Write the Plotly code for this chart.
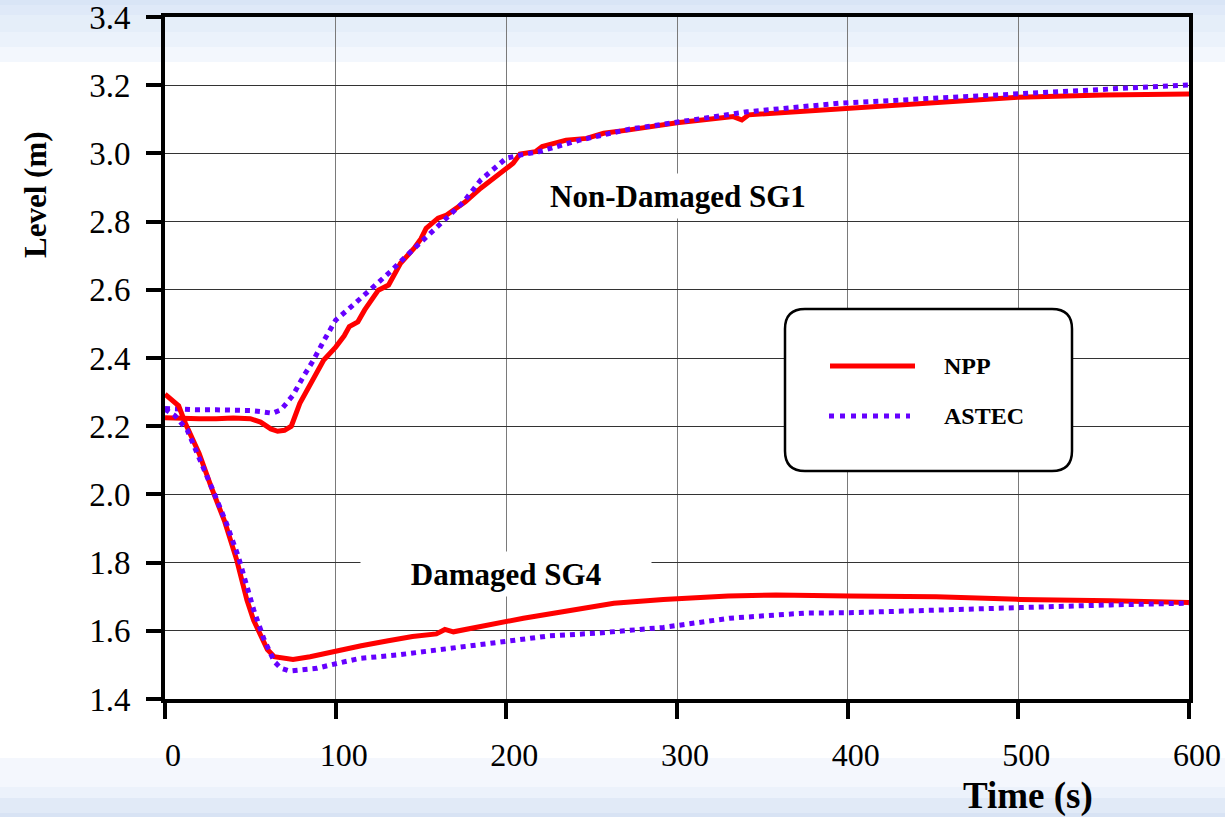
import plotly.graph_objects as go

# ---------------- data ----------------
sg1_npp_t = [0, 10, 20, 30, 40, 50, 56, 62, 66, 70, 74, 79, 86, 93, 100, 105, 108, 113, 117, 125, 131, 138, 146, 150,
             153, 160, 165, 176, 185, 195, 204, 208, 217, 221, 235, 247, 257, 272, 300, 333, 338, 342, 370, 395, 450,
             500, 550, 600]
sg1_npp_v = [2.225, 2.222, 2.222, 2.222, 2.224, 2.222, 2.212, 2.192, 2.185, 2.188, 2.200, 2.267, 2.330, 2.394, 2.432,
             2.465, 2.492, 2.506, 2.541, 2.599, 2.614, 2.678, 2.722, 2.750, 2.780, 2.810, 2.819, 2.858, 2.898, 2.935,
             2.971, 2.998, 3.005, 3.020, 3.039, 3.044, 3.059, 3.069, 3.090, 3.108, 3.098, 3.113, 3.122, 3.132, 3.150,
             3.165, 3.171, 3.174]

sg1_astec_t = [0, 10, 20, 30, 40, 50, 56, 63, 68, 75, 81, 87, 93, 100, 109, 120, 132, 142, 157, 167, 175, 185, 200,
               208, 219, 243, 272, 302, 341, 395, 450, 497, 550, 600]
sg1_astec_v = [2.252, 2.249, 2.248, 2.248, 2.248, 2.246, 2.243, 2.238, 2.248, 2.291, 2.345, 2.394, 2.450, 2.511, 2.550,
               2.599, 2.653, 2.702, 2.775, 2.824, 2.858, 2.922, 2.986, 2.995, 3.005, 3.039, 3.071, 3.093, 3.122, 3.147,
               3.162, 3.174, 3.186, 3.201]

sg4_npp_t = [0, 5, 8, 12, 20, 27, 35, 42, 48, 52, 56, 60, 64, 70, 75, 85, 95, 101, 107, 115, 130, 145, 159, 164, 169,
             180, 194, 210, 233, 263, 292, 312, 330, 358, 380, 401, 452, 501, 554, 600]
sg4_npp_v = [2.294, 2.275, 2.260, 2.208, 2.120, 2.023, 1.920, 1.808, 1.690, 1.630, 1.583, 1.545, 1.524, 1.518, 1.516,
             1.524, 1.535, 1.539, 1.549, 1.556, 1.570, 1.583, 1.591, 1.604, 1.597, 1.608, 1.622, 1.637, 1.656, 1.681,
             1.692, 1.698, 1.702, 1.705, 1.702, 1.702, 1.700, 1.692, 1.688, 1.683]

sg4_astec_t = [0, 6, 13, 20, 28, 36, 43, 52, 58, 64, 68, 73, 80, 89, 97, 114, 136, 165, 194, 225, 253, 292, 331, 358,
               375, 401, 452, 501, 554, 600]
sg4_astec_v = [2.250, 2.230, 2.189, 2.110, 2.013, 1.915, 1.817, 1.661, 1.575, 1.510, 1.490, 1.482, 1.484, 1.490,
               1.500, 1.519, 1.529, 1.548, 1.568, 1.585, 1.593, 1.610, 1.637, 1.646, 1.652, 1.653, 1.659, 1.668,
               1.676, 1.681]

x_ticks = [0, 100, 200, 300, 400, 500, 600]
y_ticks = [1.4, 1.6, 1.8, 2.0, 2.2, 2.4, 2.6, 2.8, 3.0, 3.2, 3.4]
series_names = ["NPP", "ASTEC"]

# ---------------- styling ----------------
W, H = 1225, 817
L, R, T, B = 165, 36, 17, 118
PW, PH = W - L - R, H - T - B
RED = "#ff0000"
BLUE = "#6600ff"
FONT = "Liberation Serif, Times New Roman, serif"


def px(xp):
    return (xp - L) / PW


def py(yp):
    return (H - B - yp) / PH


fig = go.Figure()
npp_style = dict(color=RED, width=5)
astec_style = dict(color=BLUE, width=5, dash="5px,5px")
fig.add_trace(go.Scatter(x=sg1_npp_t, y=sg1_npp_v, mode="lines", name=series_names[0], line=npp_style,
                         showlegend=False, cliponaxis=False))
fig.add_trace(go.Scatter(x=sg1_astec_t, y=sg1_astec_v, mode="lines", name=series_names[1], line=astec_style,
                         showlegend=False, cliponaxis=False))
fig.add_trace(go.Scatter(x=sg4_npp_t, y=sg4_npp_v, mode="lines", name=series_names[0], line=npp_style,
                         showlegend=False, cliponaxis=False))
fig.add_trace(go.Scatter(x=sg4_astec_t, y=sg4_astec_v, mode="lines", name=series_names[1], line=astec_style,
                         showlegend=False, cliponaxis=False))

shapes = []
# background bands (top and bottom)
bands = [(0, 5, "#d9e5f6"), (5, 15, "#dfe9f8"), (15, 32, "#e5eef9"), (32, 47, "#ebf2fb"), (47, 62, "#f3f7fd"),
         (758, 787, "#f4f7fd"), (787, 798, "#ecf2fb"), (798, 813, "#e1eaf7"), (813, 817, "#d8e3f4")]
for y0, y1, c in bands:
    shapes.append(dict(type="rect", xref="paper", yref="paper", x0=px(0), x1=px(W), y0=py(y1), y1=py(y0),
                       fillcolor=c, line=dict(width=0), layer="below"))

# legend box with rounded corners
bx0, bx1, by0, by1 = px(785), px(1072), py(309), py(471)
rx, ry = 20 / PW, 20 / PH
path = (f"M {bx0 + rx},{by0} L {bx1 - rx},{by0} Q {bx1},{by0} {bx1},{by0 - ry} "
        f"L {bx1},{by1 + ry} Q {bx1},{by1} {bx1 - rx},{by1} L {bx0 + rx},{by1} "
        f"Q {bx0},{by1} {bx0},{by1 + ry} L {bx0},{by0 - ry} Q {bx0},{by0} {bx0 + rx},{by0} Z")
shapes.append(dict(type="path", xref="paper", yref="paper", path=path, fillcolor="white",
                   line=dict(color="black", width=2.5), layer="above"))
shapes.append(dict(type="line", xref="paper", yref="paper", x0=px(830), x1=px(915), y0=py(366), y1=py(366),
                   line=dict(color=RED, width=5), layer="above"))
shapes.append(dict(type="line", xref="paper", yref="paper", x0=px(829), x1=px(910), y0=py(416), y1=py(416),
                   line=dict(color=BLUE, width=5, dash="5px,6px"), layer="above"))

annotations = [
    dict(xref="paper", yref="paper", x=px(942), y=py(366), text="<b>NPP</b>", showarrow=False, xanchor="left",
         yanchor="middle", font=dict(family=FONT, size=24, color="black")),
    dict(xref="paper", yref="paper", x=px(942), y=py(416), text="<b>ASTEC</b>", showarrow=False, xanchor="left",
         yanchor="middle", font=dict(family=FONT, size=24, color="black")),
    dict(xref="paper", yref="paper", x=px(678), y=py(196), text="<b>Non-Damaged SG1</b>", showarrow=False,
         xanchor="center", yanchor="middle", bgcolor="white", width=300, height=42,
         font=dict(family=FONT, size=31, color="black")),
    dict(xref="paper", yref="paper", x=px(506), y=py(574), text="<b>Damaged SG4</b>", showarrow=False,
         xanchor="center", yanchor="middle", bgcolor="white", width=288, height=42,
         font=dict(family=FONT, size=31, color="black")),
    dict(xref="paper", yref="paper", x=px(35), y=py(195), text="<b>Level (m)</b>", showarrow=False, textangle=-90,
         xanchor="center", yanchor="middle", font=dict(family=FONT, size=31, color="black")),
    dict(xref="paper", yref="paper", x=px(1028), y=py(796), text="<b>Time (s)</b>", showarrow=False,
         xanchor="center", yanchor="middle", font=dict(family=FONT, size=37, color="black")),
]

fig.update_layout(
    width=W, height=H,
    margin=dict(l=L, r=R, t=T, b=B, pad=0, autoexpand=False),
    paper_bgcolor="white",
    plot_bgcolor="rgba(0,0,0,0)",
    shapes=shapes,
    annotations=annotations,
    showlegend=False,
    font=dict(family=FONT, color="black"),
)
fig.update_xaxes(range=[0, 600], tickvals=x_ticks, ticktext=[str(v) for v in x_ticks], automargin=False,
                 showline=True, linecolor="black", linewidth=4, mirror=True,
                 ticks="outside", ticklen=16, tickwidth=4, tickcolor="black",
                 showgrid=True, gridcolor="#7a7a7a", gridwidth=1.3, zeroline=False, ticklabeloverflow="allow",
                 tickfont=dict(family=FONT, size=32, color="black"), ticklabelstandoff=9, ticklabelshift=8)
fig.update_yaxes(range=[1.4, 3.4], tickvals=y_ticks, ticktext=[f"{v:.1f}" for v in y_ticks], automargin=False,
                 showline=True, linecolor="black", linewidth=4, mirror=True,
                 ticks="outside", ticklen=15, tickwidth=4, tickcolor="black",
                 showgrid=True, gridcolor="#333333", gridwidth=1, zeroline=False, ticklabeloverflow="allow",
                 tickfont=dict(family=FONT, size=33, color="black"), ticklabelstandoff=9)

fig.write_html("out.html")
